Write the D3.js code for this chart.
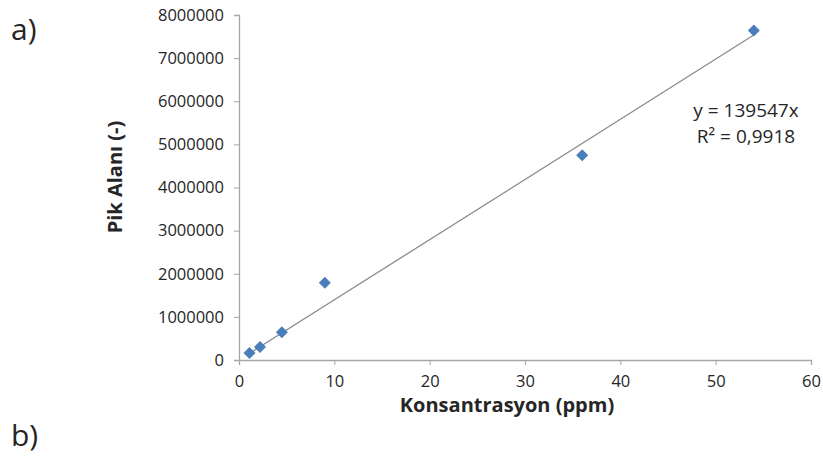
<!DOCTYPE html>
<html>
<head>
<meta charset="utf-8">
<script src="https://cdn.jsdelivr.net/npm/d3@7"></script>
<style>
html,body{margin:0;padding:0;background:#fff;}
svg{display:block;}
text{font-family:"Open Sans","Noto Sans",sans-serif;fill:#262626;}
</style>
</head>
<body>
<svg id="chart" width="823" height="457"></svg>
<script>
const concentrations = [1.1, 2.2, 4.5, 9, 36, 54];
const peakAreas = [160000, 300000, 645000, 1790000, 4750000, 7640000];
const slope = 139547;
const xTicks = [0, 10, 20, 30, 40, 50, 60];
const yTicks = [0, 1000000, 2000000, 3000000, 4000000, 5000000, 6000000, 7000000, 8000000];
const equationLines = ["y = 139547x", "R² = 0,9918"];

const svg = d3.select("#chart");
const m = {left: 239, right: 811, top: 15, bottom: 360};
const x = d3.scaleLinear().domain([0, 60]).range([m.left, m.right]);
const y = d3.scaleLinear().domain([0, 8000000]).range([m.bottom, m.top]);
const axisColor = "#a6a6a6";

// X axis
const gx = svg.append("g").attr("transform", `translate(0,${m.bottom})`)
  .call(d3.axisBottom(x).tickValues(xTicks).tickSize(5).tickPadding(10).tickFormat(d3.format("d")));
gx.select(".domain").attr("stroke", axisColor).attr("stroke-width", 1.3);
gx.selectAll(".tick line").attr("stroke", axisColor);
gx.selectAll("text").attr("font-size", 16.5).attr("fill", "#2b2b2b").style("font-family", "'Open Sans'");

// Y axis
const gy = svg.append("g").attr("transform", `translate(${m.left},0)`)
  .call(d3.axisLeft(y).tickValues(yTicks).tickSize(5).tickPadding(10).tickFormat(d3.format("d")));
gy.select(".domain").attr("stroke", axisColor).attr("stroke-width", 1.3);
gy.selectAll(".tick line").attr("stroke", axisColor);
gy.selectAll("text").attr("font-size", 16.5).attr("fill", "#2b2b2b").style("font-family", "'Open Sans'");

// Trendline
const xMin = d3.min(concentrations), xMax = d3.max(concentrations);
svg.append("line")
  .attr("x1", x(xMin)).attr("y1", y(slope * xMin))
  .attr("x2", x(xMax)).attr("y2", y(slope * xMax))
  .attr("stroke", "#8c8c8c").attr("stroke-width", 1.3);

// Points (diamonds)
const diamond = d3.symbol().type(d3.symbolSquare).size(72);
svg.append("g").selectAll("path")
  .data(concentrations.map((c, i) => [c, peakAreas[i]]))
  .join("path")
  .attr("d", diamond)
  .attr("transform", d => `translate(${x(d[0])},${y(d[1])}) rotate(45)`)
  .attr("fill", "#4a7ebb");

// Equation
svg.append("g").selectAll("text")
  .data(equationLines)
  .join("text")
  .attr("x", 746).attr("y", (d, i) => 117 + i * 26)
  .attr("text-anchor", "middle")
  .attr("font-size", 19)
  .text(d => d);

// Axis titles
svg.append("text")
  .attr("x", 507).attr("y", 412)
  .attr("text-anchor", "middle")
  .attr("font-size", 20).attr("font-weight", "bold")
  .attr("fill", "#111")
  .text("Konsantrasyon (ppm)");

svg.append("text")
  .attr("transform", "translate(122,177) rotate(-90)")
  .attr("text-anchor", "middle")
  .attr("font-size", 20).attr("font-weight", "bold")
  .attr("fill", "#111")
  .text("Pik Alanı (-)");

// Panel labels
svg.append("text").attr("x", 11).attr("y", 40).attr("font-size", 30).attr("fill", "#111").text("a)");
svg.append("text").attr("x", 11).attr("y", 446).attr("font-size", 30).attr("fill", "#111").text("b)");
</script>
</body>
</html>
